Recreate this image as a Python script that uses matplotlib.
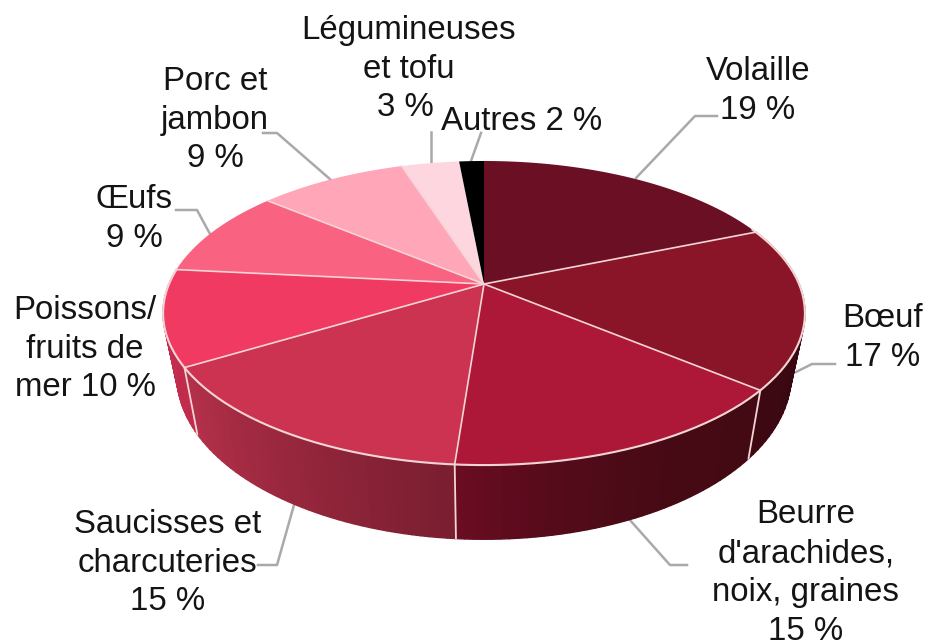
import numpy as np
import matplotlib
matplotlib.use('Agg')
import matplotlib.pyplot as plt

plt.rcParams['font.family'] = ['Liberation Sans', 'DejaVu Sans']

# slices clockwise from 12 o'clock, shares
categories = ['Volaille', 'Bœuf', "Beurre d'arachides, noix, graines",
              'Saucisses et charcuteries', 'Poissons/fruits de mer', 'Œufs',
              'Porc et jambon', 'Légumineuses et tofu', 'Autres']
shares = [18.8, 17.2, 15.2, 15.2, 10.2, 9.4, 9.0, 3.5, 1.5]

top_colors = ['#6b0f24', '#8a1529', '#ad1838', '#cc3350', '#f03a62',
              '#fa6282', '#ffa6b9', '#fdd6e0', '#000000']
# wall colours: (right end, left end, easing) of the visible band
side_colors = {1: ('#2e060e', '#3e0812', 1), 2: ('#440a14', '#6a0c22', 2.5),
               3: ('#7a1e30', '#b4304a', 1), 4: ('#c02c4c', '#c52e50', 1)}
edge = '#f4d5d5'

# projection of the disc
CX, CY = 484, 284
B, A, K = 315, 146.5, 0.191
DEPTH, SHRINK = 60.0, 0.957


def project(theta, lower=False):
    u, v = np.sin(theta), -np.cos(theta)
    s = 1 / (1 - K * v)
    x, y = B * u * s, A * v * s
    if lower:
        return CX + SHRINK * x, CY + y + DEPTH * s
    return CX + x, CY + y


def mix(c1, c2, t):
    a = np.array(matplotlib.colors.to_rgb(c1))
    b = np.array(matplotlib.colors.to_rgb(c2))
    return a + (b - a) * t


fig = plt.figure(figsize=(9.27, 6.43), dpi=100)
ax = fig.add_axes([0, 0, 1, 1])
ax.set_xlim(0, 927)
ax.set_ylim(643, 0)
ax.axis('off')

edges = np.deg2rad(np.concatenate([[0], np.cumsum(shares)]) * 3.6)

# side wall, drawn as many thin bands
for i, (c_right, c_left, ease) in side_colors.items():
    n = 40
    steps = np.linspace(edges[i], edges[i + 1], n + 1)
    for j in range(n):
        th = np.linspace(steps[j], steps[j + 1], 5)
        xt, yt = project(th)
        xb, yb = project(th, lower=True)
        c = mix(c_right, c_left, (j / (n - 1)) ** ease)
        ax.fill(np.r_[xt, xb[::-1]], np.r_[yt, yb[::-1]],
                facecolor=c, edgecolor=c, lw=1.0, zorder=2)

# vertical separators on the wall
for i in [2, 3, 4]:
    x0, y0 = project(edges[i])
    x1, y1 = project(edges[i], lower=True)
    ax.plot([x0, x1], [y0, y1], color=edge, lw=1.3, zorder=3)

# top faces
for i, c in enumerate(top_colors):
    th = np.linspace(edges[i], edges[i + 1], 60)
    x, y = project(th)
    ax.fill(np.r_[CX, x], np.r_[CY, y], facecolor=c, edgecolor='none', zorder=4)

# rim and slice borders
for i in range(1, len(top_colors) - 1):
    x, y = project(edges[i])
    ax.plot([CX, x], [CY, y], color=edge, lw=1.2, zorder=5)
th = np.linspace(edges[1] - 0.02, edges[5], 200)
ax.plot(*project(th), color=edge, lw=1.5, zorder=5)

# leader lines
leaders = [
    ([636, 695, 717], [178, 116, 116]),
    ([796, 812, 835], [372, 364, 364]),
    ([629, 670, 687], [519, 565, 565]),
    ([294, 277, 258], [505, 565, 565]),
    ([210, 197, 176], [234, 210, 210]),
    ([331, 277, 263], [180, 133, 133]),
    ([431, 431], [164, 132]),
    ([471, 481], [161, 133]),
]
for lx, ly in leaders:
    ax.plot(lx, ly, color='#a9a9a9', lw=1.8, zorder=1, solid_joinstyle='round')

# labels
labels = [
    (758, 91, 'Volaille\n19 %'),
    (883, 338, 'Bœuf\n17 %'),
    (806, 573, "Beurre\nd'arachides,\nnoix, graines\n15 %"),
    (168, 563, 'Saucisses et\ncharcuteries\n15 %'),
    (85, 349, 'Poissons/\nfruits de\nmer 10 %'),
    (134, 219, 'Œufs\n9 %'),
    (215, 120, 'Porc et\njambon\n9 %'),
    (409, 50, 'Légumineuses\net tofu'),
    (405, 108, '3 %'),
    (522, 122, 'Autres 2 %'),
]
for x, y, s in labels:
    ax.text(x, y, s, ha='center', va='center', fontsize=23.8, color='#141414',
            linespacing=1.33, zorder=6)

fig.savefig('out.png', dpi=100)
